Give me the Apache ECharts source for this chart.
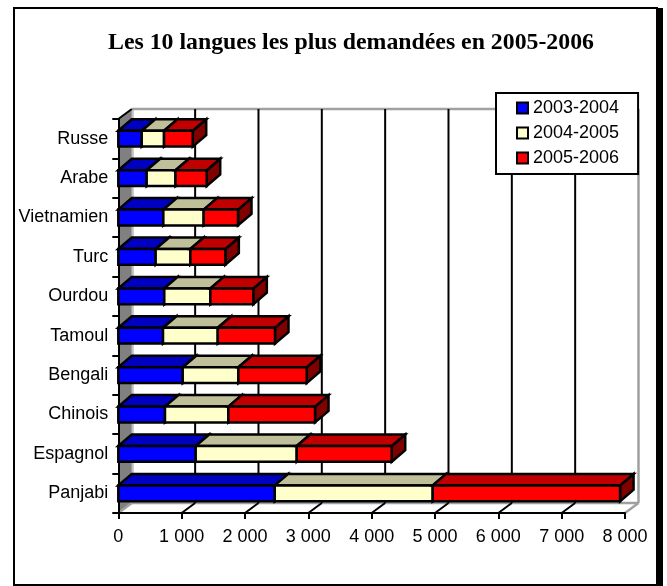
<!DOCTYPE html>
<html><head><meta charset="utf-8">
<style>html,body{margin:0;padding:0;background:#fff}#c{width:667px;height:586px}</style>
<script src="https://cdn.jsdelivr.net/npm/echarts@6/dist/echarts.min.js"></script>
</head><body><div id="c"></div>
<script>
const titleText = 'Les 10 langues les plus demandées en 2005-2006';
const categories = ['Russe','Arabe','Vietnamien','Turc','Ourdou','Tamoul','Bengali','Chinois','Espagnol','Panjabi'];
const seriesNames = ['2003-2004','2004-2005','2005-2006'];
const values2003 = [370,448,711,590,726,706,1017,737,1222,2470];
const values2004 = [352,455,637,547,727,864,878,1000,1595,2494];
const values2005 = [453,493,542,553,679,904,1080,1369,1500,2958];
const gridTicks = [0,1000,2000,3000,4000,5000,6000,7000,8000];

const DX = 13.5, DY = 11.5, WX = 13.5, WY = 10, BAR = 0.4;
const faces = [
  {front:'#0000ff', top:'#0000c0', side:'#000080'},
  {front:'#ffffcc', top:'#bfbf99', side:'#808066'},
  {front:'#ff0000', top:'#c00000', side:'#800000'}
];
const allValues = [values2003, values2004, values2005];

function barRender(si){
  return function(params, api){
    const a = api.coord([api.value(0), api.value(2)]);
    const b = api.coord([api.value(1), api.value(2)]);
    const h = api.size([0,1])[1] * BAR;
    const x0=a[0], x1=b[0], yT=a[1]-h/2, yB=a[1]+h/2;
    const f = faces[si];
    const st = {stroke:'#000', lineWidth:2.5, lineJoin:'miter'};
    const poly = (pts,fill)=>({type:'polygon',shape:{points:pts},style:Object.assign({fill},st)});
    return {type:'group',children:[
      poly([[x1,yT],[x1+DX,yT-DY],[x1+DX,yB-DY],[x1,yB]], f.side),
      poly([[x0,yT],[x0+DX,yT-DY],[x1+DX,yT-DY],[x1,yT]], f.top),
      poly([[x0,yT],[x1,yT],[x1,yB],[x0,yB]], f.front)
    ]};
  };
}
function wallRender(params, api){
  const v = api.value(0);
  const cs = params.coordSys;
  const p = api.coord([v, 0]);
  const x = p[0], top = cs.y, bot = cs.y+cs.height;
  const gray = {stroke:'#a0a0a0', lineWidth:2.5};
  const line = (x1,y1,x2,y2,style)=>({type:'line',shape:{x1,y1,x2,y2},style});
  const black = {stroke:'#000', lineWidth:2};
  const ch = [];
  if (v === gridTicks[0]) {
    ch.push({type:'polygon',shape:{points:[[x,top],[x+WX,top-WY],[x+WX,bot-WY],[x,bot]]},style:{fill:'#808080',stroke:null}});
    ch.push(line(x+WX+1,top-WY,x+WX+1,bot-WY,{stroke:'#c0c0c0',lineWidth:2}));
    ch.push(line(x+WX,top-WY,cs.x+cs.width+WX,top-WY,gray));
    ch.push(line(x+WX,bot-WY,cs.x+cs.width+WX,bot-WY,gray));
    ch.push(line(x,top,x+WX,top-WY,black));
    ch.push(line(x,bot,x+WX,bot-WY,gray));
  } else if (v === gridTicks[gridTicks.length-1]) {
    ch.push(line(x+WX,top-WY,x+WX,bot-WY,gray));
    ch.push(line(x,bot,x+WX,bot-WY,gray));
  } else {
    ch.push(line(x+WX,top-WY,x+WX,bot-WY,black));
    ch.push(line(x,bot,x+WX,bot-WY,black));
  }
  return {type:'group',children:ch};
}

const chart = echarts.init(document.getElementById('c'), null, {renderer:'canvas'});
const series = [{
  type:'custom', name:'walls', coordinateSystem:'cartesian2d', z:1, silent:true,
  renderItem:wallRender, encode:{x:0}, data:gridTicks.map(v=>[v])
}];
seriesNames.forEach((name,si)=>{
  const data = categories.map((c,i)=>{
    let s=0; for(let k=0;k<si;k++) s+=allValues[k][i];
    return [s, s+allValues[si][i], i];
  });
  series.push({
    type:'custom', name, coordinateSystem:'cartesian2d', z:3+si, silent:true,
    renderItem:barRender(si), encode:{x:[0,1],y:2},
    itemStyle:{color:faces[si].front,borderColor:'#000',borderWidth:2},
    data
  });
});
chart.setOption({
  animation:false,
  backgroundColor:'#fff',
  title:{text:titleText,left:346,top:26,textAlign:'center',
    textStyle:{fontFamily:'Liberation Serif',fontWeight:'bold',fontSize:23.8,color:'#000'}},
  grid:{left:118.3,right:42,top:119,bottom:73},
  legend:{
    data:seriesNames,orient:'vertical',left:496,top:93,
    padding:[6,19,7,20],itemWidth:11,itemHeight:11,itemGap:7,z:10,
    backgroundColor:'#fff',borderColor:'#000',borderWidth:2,borderRadius:0,
    icon:'rect',selectedMode:false,
    textStyle:{fontFamily:'Liberation Sans',fontSize:18,color:'#000',padding:[0,0,0,0]},
    itemStyle:{borderColor:'#000',borderWidth:2}
  },
  xAxis:{type:'value',min:0,max:8000,interval:1000,z:2,
    axisLine:{show:true,lineStyle:{color:'#000',width:2}},
    axisTick:{show:true,length:6,lineStyle:{color:'#000',width:2}},
    splitLine:{show:false},
    axisLabel:{color:'#000',fontFamily:'Liberation Sans',fontSize:18,margin:15.5,showMinLabel:true,showMaxLabel:true,
      formatter:v=>String(v).replace(/\B(?=(\d{3})+$)/g,' ')}
  },
  yAxis:{type:'category',data:categories,inverse:true,z:2,
    axisLine:{show:true,lineStyle:{color:'#000',width:2}},
    axisTick:{show:true,length:6,lineStyle:{color:'#000',width:2}},
    splitLine:{show:false},
    axisLabel:{color:'#000',fontFamily:'Liberation Sans',fontSize:18,margin:10,padding:[2,0,0,0]}
  },
  graphic:[
    {type:'rect',z:0,silent:true,shape:{x:14,y:8,width:643,height:577},style:{fill:'#fff',stroke:'#000',lineWidth:2}},
    {type:'rect',z:0,silent:true,shape:{x:657,y:8,width:6,height:578},style:{fill:'#000'}}
  ],
  series
});
</script></body></html>
